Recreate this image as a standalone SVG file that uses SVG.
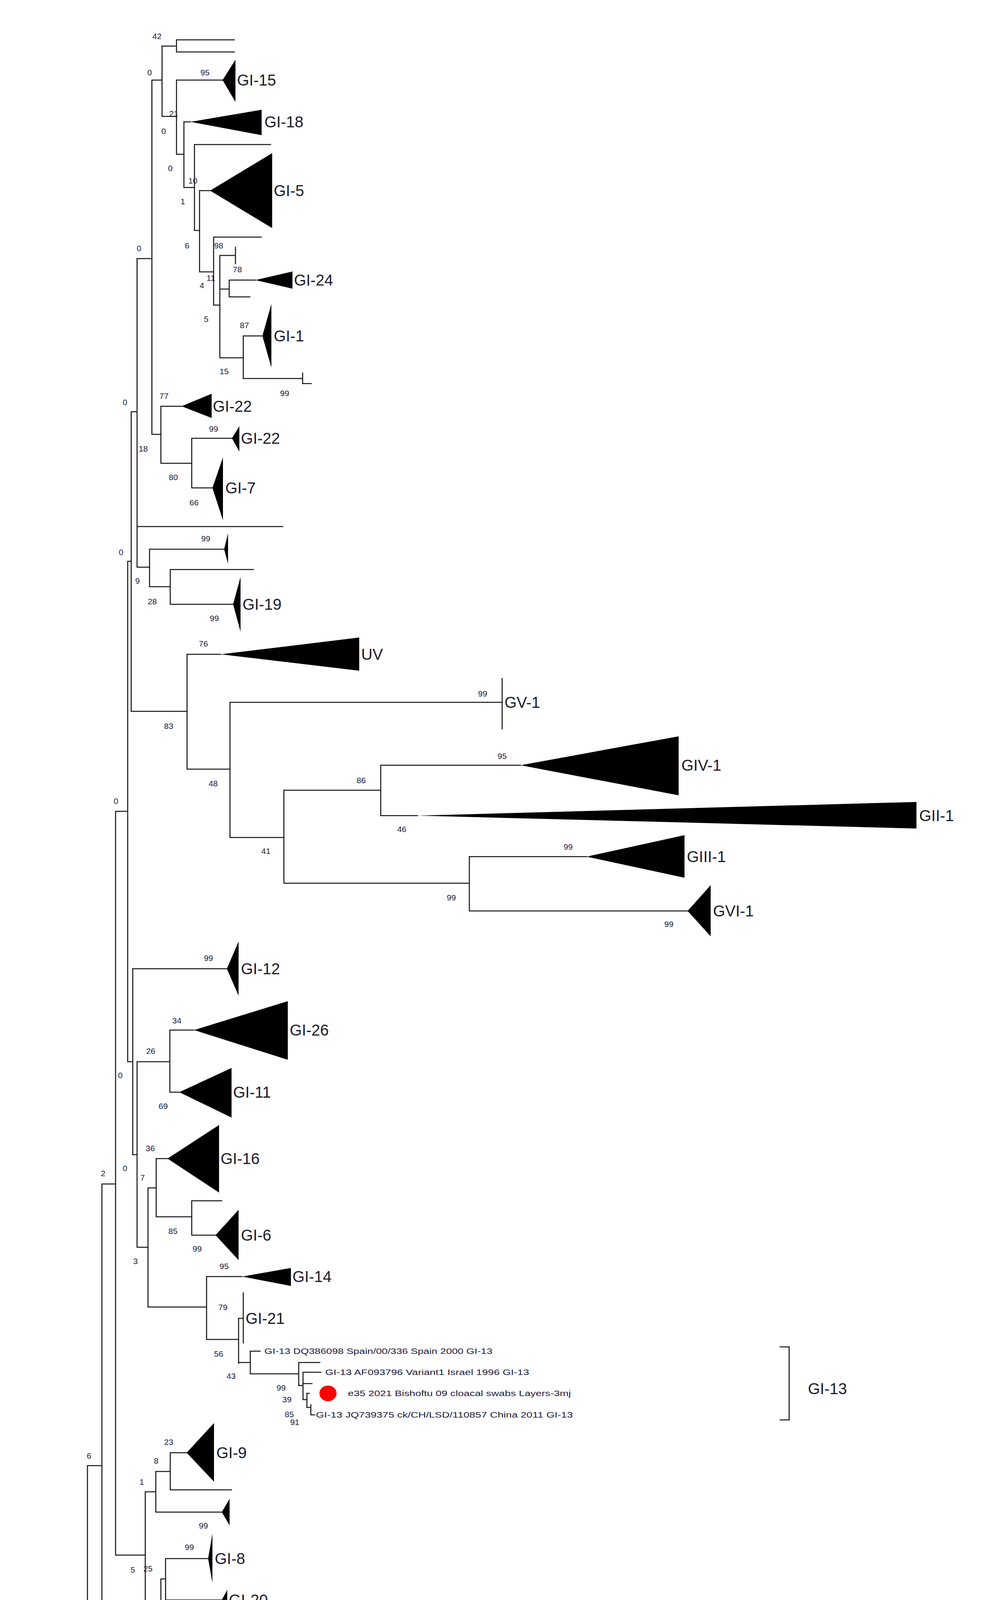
<svg xmlns="http://www.w3.org/2000/svg" width="2520" height="5400" viewBox="0 0 2520 5400">
<style>
.e{stroke:#111;stroke-width:2.6;fill:none;stroke-linecap:square}
.t{fill:#000}
.c{font-family:"Liberation Sans",Arial,sans-serif;font-size:40px;fill:#1a1a2a;dominant-baseline:central}
.b{font-family:"Liberation Sans",Arial,sans-serif;font-size:21px;fill:#1a1a3a;dominant-baseline:central;text-anchor:middle}
.s{font-family:"Liberation Sans",Arial,sans-serif;font-size:20px;fill:#1a1a3a;dominant-baseline:central}
</style>
<rect width="2520" height="5400" fill="#fff"/>
<g id="connectors">
<path class="e" d="
M452 102V133 M452 102H600 M452 133H600
M415 118V298 M415 118H452 M389 205H415 M389 205V1112
M415 298H452 M452 205V395 M452 205H570
M452 395H471 M471 312V480 M471 312H488
M471 480H498 M498 370V590 M498 370H693
M498 590H511 M511 488V696 M511 488H538
M511 696H547 M547 607V781 M547 607H669
M547 781H563 M563 654V916 M563 654H603 M603 633V675
M563 740H587 M587 717V760 M587 717H654 M587 760H640
M563 916H623 M623 860V969 M623 860H672 M623 969H775 M775 955V982 M775 982H797
M351 662H389 M351 662V1452 M336 1054H351
M389 1112H412 M412 1040V1186 M412 1040H465
M412 1186H491 M491 1122V1249 M491 1122H594 M491 1249H544
M351 1348H724
M351 1452H383 M383 1406V1502 M383 1406H574 M383 1502H436 M436 1458V1547 M436 1458H649 M436 1547H597
M336 1054V1821 M327 1437H336 M336 1821H479 M479 1675V1969 M479 1675H565
M479 1969H589 M589 1798V2144 M589 1798H1286 M1286 1737V1866
M589 2144H727 M727 2023V2261 M727 2023H975 M975 1959V2088 M975 1959H1333 M975 2088H1069
M727 2261H1202 M1202 2193V2332 M1202 2193H1502 M1202 2332H1761
M327 1437V2718 M296 2077H327 M296 2077V3981
M327 2718H340 M340 2480V2956 M340 2480H581
M340 2956H351 M351 2718V3193 M351 2718H435 M435 2637V2796 M435 2637H497 M435 2796H459
M351 3193H379 M379 3041V3346
M379 3041H400 M400 2966V3115 M400 2966H429 M400 3115H491 M491 3074V3162 M491 3074H568 M491 3162H552
M379 3346H529 M529 3268V3429 M529 3268H620
M529 3429H611 M611 3375V3490 M611 3375H623 M623 3310V3438
M611 3488H641 M641 3459V3517 M641 3459H666
M641 3517H765 M765 3488V3547 M765 3488H819 M765 3547H776 M776 3513V3583 M776 3513H822 M776 3542H799
M776 3583H786 M786 3567V3603 M786 3567H792 M786 3603H796 M796 3596V3622 M796 3622H806
M296 3981H372 M372 3819V4149 M372 3819H399 M399 3767V3871 M399 3767H436 M436 3719V3814 M436 3719H478 M436 3814H593 M399 3871H568
M372 4149H412 M412 4042V4259 M412 4042H424 M424 3990V4096 M424 3990H533 M424 4096H568
M412 4259H447 M447 4191V4327 M447 4191H631 M631 4136V4243 M447 4327H476
M261 3031H296 M261 3031V4476 M261 4476H385
M224 3752H261 M224 3752V4615 M224 4615H347
M177 4181H224 M177 4181V4693 M177 4693H290
M108 4437H177 M108 4437V4800 M108 4800H132
M92 4618H108 M92 4618V4970 M92 4970H172
M84 4792H92 M84 4792V5109 M84 5109H179
M1998 3448H2021V3635H1998
"/>
</g>
<g id="clades">
<polygon class="t" points="570,205 603,153 603,261"/>
<polygon class="t" points="488,312 670,281 670,346"/>
<polygon class="t" points="538,488 697,392 697,584"/>
<polygon class="t" points="654,717 749,695 749,739"/>
<polygon class="t" points="672,860 695,778 695,941"/>
<polygon class="t" points="465,1040 542,1008 542,1070"/>
<polygon class="t" points="594,1122 613,1091 613,1156"/>
<polygon class="t" points="544,1249 571,1171 571,1332"/>
<polygon class="t" points="574,1406 584,1365 584,1443"/>
<polygon class="t" points="597,1547 616,1477 616,1617"/>
<polygon class="t" points="565,1675 920,1632 920,1717"/>
<polygon class="t" points="1333,1959 1738,1885 1738,2036"/>
<polygon class="t" points="1069,2088 2347,2053 2347,2121"/>
<polygon class="t" points="1502,2193 1753,2138 1753,2247"/>
<polygon class="t" points="1761,2332 1820,2266 1820,2397"/>
<polygon class="t" points="581,2480 611,2410 611,2549"/>
<polygon class="t" points="497,2637 737,2563 737,2713"/>
<polygon class="t" points="459,2796 593,2734 593,2861"/>
<polygon class="t" points="429,2966 561,2880 561,3053"/>
<polygon class="t" points="552,3162 611,3097 611,3226"/>
<polygon class="t" points="620,3268 745,3246 745,3292"/>
<polygon class="t" points="478,3719 548,3643 548,3793"/>
<polygon class="t" points="568,3871 588,3837 588,3905"/>
<polygon class="t" points="533,3990 544,3926 544,4052"/>
<polygon class="t" points="568,4096 582,4070 582,4117"/>
<polygon class="t" points="476,4327 581,4263 581,4392"/>
<polygon class="t" points="385,4476 449,4411 449,4540"/>
<polygon class="t" points="347,4615 361,4552 361,4679"/>
<polygon class="t" points="132,4800 188,4712 188,4888"/>
<polygon class="t" points="172,4970 349,4907 349,5035"/>
<polygon class="t" points="179,5109 221,5054 221,5164"/>
<ellipse cx="840" cy="3567" rx="22" ry="20" fill="#f00"/>
</g>
<g id="clade-labels">
<text class="c" x="607" y="205">GI-15</text>
<text class="c" x="677" y="312">GI-18</text>
<text class="c" x="701" y="488">GI-5</text>
<text class="c" x="753" y="717">GI-24</text>
<text class="c" x="701" y="860">GI-1</text>
<text class="c" x="545" y="1040">GI-22</text>
<text class="c" x="617" y="1122">GI-22</text>
<text class="c" x="577" y="1249">GI-7</text>
<text class="c" x="621" y="1547">GI-19</text>
<text class="c" x="925" y="1675">UV</text>
<text class="c" x="1292" y="1798">GV-1</text>
<text class="c" x="1745" y="1959">GIV-1</text>
<text class="c" x="2354" y="2088">GII-1</text>
<text class="c" x="1759" y="2193">GIII-1</text>
<text class="c" x="1826" y="2332">GVI-1</text>
<text class="c" x="617" y="2480">GI-12</text>
<text class="c" x="742" y="2637">GI-26</text>
<text class="c" x="597" y="2796">GI-11</text>
<text class="c" x="565" y="2966">GI-16</text>
<text class="c" x="617" y="3162">GI-6</text>
<text class="c" x="749" y="3268">GI-14</text>
<text class="c" x="629" y="3375">GI-21</text>
<text class="c" x="554" y="3719">GI-9</text>
<text class="c" x="550" y="3990">GI-8</text>
<text class="c" x="586" y="4096">GI-20</text>
<text class="c" x="637" y="4191">GI-2</text>
<text class="c" x="586" y="4327">GI-3</text>
<text class="c" x="454" y="4476">GI-23</text>
<text class="c" x="366" y="4615">GI-10</text>
<text class="c" x="195" y="4800">GI-17</text>
<text class="c" x="355" y="4970">GI-15</text>
<text class="c" x="227" y="5109">GI-27</text>
<text class="c" x="2069" y="3555">GI-13</text>
</g>
<g id="leaf-labels">
<text class="s" x="677" y="3459" textLength="584" lengthAdjust="spacingAndGlyphs">GI-13 DQ386098 Spain/00/336 Spain 2000 GI-13</text>
<text class="s" x="833" y="3513" textLength="522" lengthAdjust="spacingAndGlyphs">GI-13 AF093796 Variant1 Israel 1996 GI-13</text>
<text class="s" x="891" y="3567" textLength="571" lengthAdjust="spacingAndGlyphs">e35 2021 Bishoftu 09 cloacal swabs Layers-3mj</text>
<text class="s" x="809" y="3622" textLength="658" lengthAdjust="spacingAndGlyphs">GI-13 JQ739375 ck/CH/LSD/110857 China 2011 GI-13</text>
</g>
<g id="bootstrap">
<text class="b" x="402" y="92">42</text><text class="b" x="383" y="185">0</text><text class="b" x="525" y="185">95</text>
<text class="b" x="445" y="290">21</text><text class="b" x="419" y="335">0</text><text class="b" x="436" y="430">0</text>
<text class="b" x="494" y="462">10</text><text class="b" x="468" y="515">1</text><text class="b" x="479" y="628">6</text>
<text class="b" x="560" y="628">98</text><text class="b" x="540" y="711">11</text><text class="b" x="517" y="730">4</text>
<text class="b" x="608" y="689">78</text><text class="b" x="528" y="816">5</text><text class="b" x="626" y="832">87</text>
<text class="b" x="574" y="950">15</text><text class="b" x="729" y="1006">99</text><text class="b" x="356" y="635">0</text>
<text class="b" x="320" y="1029">0</text><text class="b" x="420" y="1013">77</text><text class="b" x="367" y="1148">18</text>
<text class="b" x="547" y="1097">99</text><text class="b" x="444" y="1221">80</text><text class="b" x="497" y="1286">66</text>
<text class="b" x="527" y="1378">99</text><text class="b" x="310" y="1413">0</text><text class="b" x="352" y="1486">9</text>
<text class="b" x="390" y="1539">28</text><text class="b" x="549" y="1582">99</text><text class="b" x="521" y="1647">76</text>
<text class="b" x="432" y="1858">83</text><text class="b" x="546" y="2005">48</text><text class="b" x="1236" y="1775">99</text>
<text class="b" x="925" y="1997">86</text><text class="b" x="1286" y="1935">95</text><text class="b" x="1029" y="2122">46</text>
<text class="b" x="681" y="2178">41</text><text class="b" x="1455" y="2167">99</text><text class="b" x="1156" y="2297">99</text>
<text class="b" x="1713" y="2365">99</text><text class="b" x="297" y="2050">0</text><text class="b" x="534" y="2452">99</text>
<text class="b" x="453" y="2612">34</text><text class="b" x="386" y="2690">26</text><text class="b" x="308" y="2752">0</text>
<text class="b" x="418" y="2831">69</text><text class="b" x="385" y="2939">36</text><text class="b" x="264" y="3003">2</text>
<text class="b" x="320" y="2990">0</text><text class="b" x="365" y="3014">7</text><text class="b" x="443" y="3151">85</text>
<text class="b" x="505" y="3196">99</text><text class="b" x="347" y="3228">3</text><text class="b" x="574" y="3241">95</text>
<text class="b" x="571" y="3346">79</text><text class="b" x="560" y="3465">56</text><text class="b" x="592" y="3522">43</text>
<text class="b" x="720" y="3552">99</text><text class="b" x="735" y="3582">39</text><text class="b" x="741" y="3620">85</text>
<text class="b" x="755" y="3640">91</text><text class="b" x="228" y="3726">6</text><text class="b" x="432" y="3691">23</text>
<text class="b" x="400" y="3739">8</text><text class="b" x="363" y="3793">1</text><text class="b" x="521" y="3905">99</text>
<text class="b" x="340" y="4018">5</text><text class="b" x="379" y="4015">25</text><text class="b" x="485" y="3960">99</text>
<text class="b" x="521" y="4128">99</text><text class="b" x="362" y="4184">30</text><text class="b" x="583" y="4163">99</text>
<text class="b" x="402" y="4294">51</text><text class="b" x="432" y="4362">79</text><text class="b" x="175" y="4156">16</text>
<text class="b" x="129" y="4411">20</text><text class="b" x="338" y="4512">97</text><text class="b" x="301" y="4649">99</text>
<text class="b" x="72" y="4590">5</text><text class="b" x="87" y="4836">10</text><text class="b" x="127" y="5005">91</text>
<text class="b" x="135" y="5142">99</text>
</g>
<g id="scale">
<path class="e" d="M108 5230H344 M108 5220V5242 M344 5220V5242"/>
<text class="b" x="204" y="5315" style="font-size:28px">0,20</text>
</g>
</svg>
